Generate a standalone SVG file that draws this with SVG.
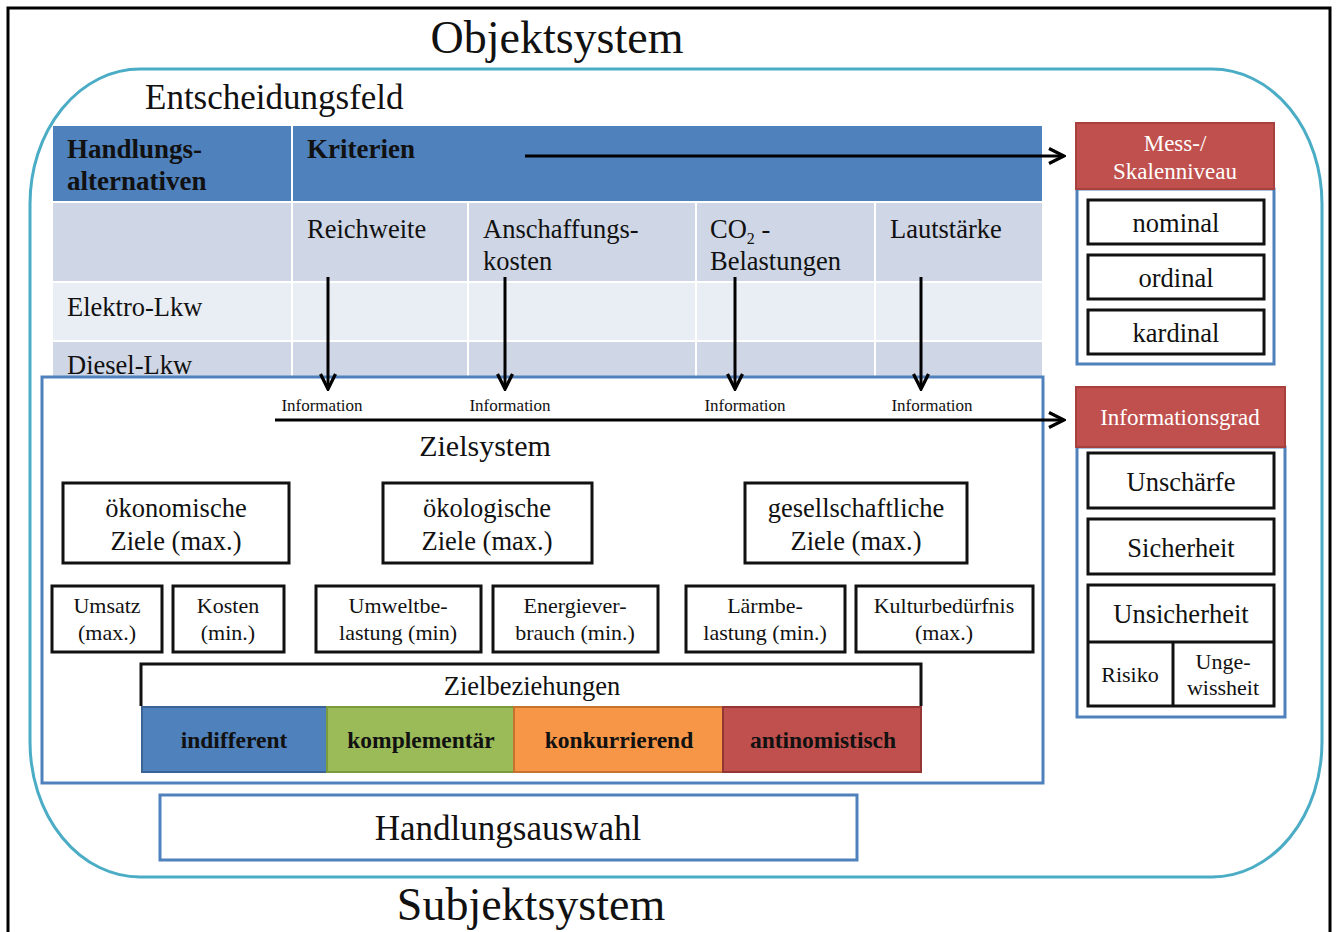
<svg xmlns="http://www.w3.org/2000/svg" width="1338" height="932" viewBox="0 0 1338 932">
  <style>
    text { font-family: "Liberation Serif", "Times New Roman", serif; fill: #111; }
    .title { font-size: 46px; }
    .big { font-size: 35px; }
    .cell { font-size: 26.5px; }
    .hdr { font-size: 27px; font-weight: bold; }
    .info { font-size: 17px; }
    .goal { font-size: 26.5px; }
    .sub { font-size: 22px; }
    .rel { font-size: 23.5px; font-weight: bold; }
    .red-t { font-size: 23px; fill: #fff; }
    .box { fill: #fff; stroke: #111; stroke-width: 3; }
    .panel { fill: #fff; stroke: #4f81bd; stroke-width: 3; }
    .conn { stroke: #000; stroke-width: 3; fill: none; marker-end: url(#arrow); }
  </style>
  <defs>
    <marker id="arrow" viewBox="0 0 12 12" refX="11" refY="6" markerWidth="6" markerHeight="6" orient="auto" markerUnits="strokeWidth">
      <path d="M1,1 L11,6 L1,11" fill="none" stroke="#000" stroke-width="2.2"/>
    </marker>
  </defs>

  <rect width="1338" height="932" fill="#fff"/>

  <!-- outer frame -->
  <rect x="8" y="8" width="1322" height="940" fill="none" stroke="#000" stroke-width="3"/>
  <text class="title" x="557" y="53" text-anchor="middle">Objektsystem</text>
  <text class="title" x="531" y="920" text-anchor="middle">Subjektsystem</text>

  <!-- decision field -->
  <rect x="30" y="69" width="1292" height="808" rx="110" ry="135" fill="none" stroke="#4bacc6" stroke-width="3"/>
  <text class="big" x="145" y="109">Entscheidungsfeld</text>

  <!-- criteria table -->
  <g id="table">
    <rect x="53" y="126" width="989" height="75" fill="#4f81bd"/>
    <line x1="292" y1="126" x2="292" y2="201" stroke="#fff" stroke-width="2"/>
    <rect x="53" y="203" width="989" height="78" fill="#cfd6e5"/>
    <rect x="53" y="283" width="989" height="57" fill="#e9edf4"/>
    <rect x="53" y="342" width="989" height="40" fill="#cfd6e5"/>
    <g stroke="#fff" stroke-width="2">
      <line x1="292" y1="203" x2="292" y2="382"/>
      <line x1="468" y1="203" x2="468" y2="382"/>
      <line x1="696" y1="203" x2="696" y2="382"/>
      <line x1="875" y1="203" x2="875" y2="382"/>
    </g>
    <text class="hdr" x="67" y="158">Handlungs-</text>
    <text class="hdr" x="67" y="190">alternativen</text>
    <text class="hdr" x="307" y="158">Kriterien</text>
    <text class="cell" x="307" y="238">Reichweite</text>
    <text class="cell" x="483" y="238">Anschaffungs-</text>
    <text class="cell" x="483" y="270">kosten</text>
    <text class="cell" x="710" y="238">CO<tspan font-size="16" dy="6">2</tspan><tspan dy="-6"> -</tspan></text>
    <text class="cell" x="710" y="270">Belastungen</text>
    <text class="cell" x="890" y="238">Lautstärke</text>
    <text class="cell" x="67" y="316">Elektro-Lkw</text>
    <text class="cell" x="67" y="374">Diesel-Lkw</text>
  </g>

  <!-- goal system -->
  <g id="zielsystem">
    <rect class="panel" x="42" y="377" width="1001" height="406"/>
    <text class="info" x="322" y="411" text-anchor="middle">Information</text>
    <text class="info" x="510" y="411" text-anchor="middle">Information</text>
    <text class="info" x="745" y="411" text-anchor="middle">Information</text>
    <text class="info" x="932" y="411" text-anchor="middle">Information</text>
    <text x="485" y="456" text-anchor="middle" font-size="30">Zielsystem</text>
  </g>

  <g id="oekonomisch">
    <rect class="box" x="63" y="483" width="226" height="80"/>
    <text class="goal" x="176" y="517" text-anchor="middle">ökonomische</text>
    <text class="goal" x="176" y="550" text-anchor="middle">Ziele (max.)</text>
  </g>
  <g id="oekologisch">
    <rect class="box" x="383" y="483" width="209" height="80"/>
    <text class="goal" x="487" y="517" text-anchor="middle">ökologische</text>
    <text class="goal" x="487" y="550" text-anchor="middle">Ziele (max.)</text>
  </g>
  <g id="gesellschaftlich">
    <rect class="box" x="745" y="483" width="222" height="80"/>
    <text class="goal" x="856" y="517" text-anchor="middle">gesellschaftliche</text>
    <text class="goal" x="856" y="550" text-anchor="middle">Ziele (max.)</text>
  </g>

  <g id="umsatz">
    <rect class="box" x="52" y="586" width="110" height="66"/>
    <text class="sub" x="107" y="613" text-anchor="middle">Umsatz</text>
    <text class="sub" x="107" y="640" text-anchor="middle">(max.)</text>
  </g>
  <g id="kosten">
    <rect class="box" x="173" y="586" width="111" height="66"/>
    <text class="sub" x="228" y="613" text-anchor="middle">Kosten</text>
    <text class="sub" x="228" y="640" text-anchor="middle">(min.)</text>
  </g>
  <g id="umweltbelastung">
    <rect class="box" x="316" y="586" width="165" height="66"/>
    <text class="sub" x="398" y="613" text-anchor="middle">Umweltbe-</text>
    <text class="sub" x="398" y="640" text-anchor="middle">lastung (min)</text>
  </g>
  <g id="energieverbrauch">
    <rect class="box" x="493" y="586" width="165" height="66"/>
    <text class="sub" x="575" y="613" text-anchor="middle">Energiever-</text>
    <text class="sub" x="575" y="640" text-anchor="middle">brauch (min.)</text>
  </g>
  <g id="laermbelastung">
    <rect class="box" x="686" y="586" width="159" height="66"/>
    <text class="sub" x="765" y="613" text-anchor="middle">Lärmbe-</text>
    <text class="sub" x="765" y="640" text-anchor="middle">lastung (min.)</text>
  </g>
  <g id="kulturbeduerfnis">
    <rect class="box" x="856" y="586" width="177" height="66"/>
    <text class="sub" x="944" y="613" text-anchor="middle">Kulturbedürfnis</text>
    <text class="sub" x="944" y="640" text-anchor="middle">(max.)</text>
  </g>

  <g id="zielbeziehungen">
    <path d="M141,706 V664 H921 V706" fill="#fff" stroke="#111" stroke-width="3"/>
    <text x="532" y="695" text-anchor="middle" font-size="26.5">Zielbeziehungen</text>
    <rect x="142" y="707" width="185" height="65" fill="#4f81bd" stroke="#3a6496" stroke-width="2"/>
    <rect x="327" y="707" width="187" height="65" fill="#9bbb59" stroke="#7a9a3c" stroke-width="2"/>
    <rect x="514" y="707" width="209" height="65" fill="#f79646" stroke="#c6742d" stroke-width="2"/>
    <rect x="723" y="707" width="198" height="65" fill="#c0504d" stroke="#943634" stroke-width="2"/>
    <text class="rel" x="234" y="748" text-anchor="middle">indifferent</text>
    <text class="rel" x="421" y="748" text-anchor="middle">komplementär</text>
    <text class="rel" x="619" y="748" text-anchor="middle">konkurrierend</text>
    <text class="rel" x="823" y="748" text-anchor="middle">antinomistisch</text>
  </g>

  <g id="handlungsauswahl">
    <rect class="panel" x="160" y="795" width="697" height="65"/>
    <text x="508" y="840" text-anchor="middle" font-size="35">Handlungsauswahl</text>
  </g>

  <!-- scale level -->
  <g id="skalenniveau">
    <rect class="panel" x="1077" y="189" width="197" height="175"/>
    <rect x="1076" y="123" width="198" height="66" fill="#c0504d" stroke="#a8403d" stroke-width="2"/>
    <text class="red-t" x="1175" y="151" text-anchor="middle">Mess-/</text>
    <text class="red-t" x="1175" y="179" text-anchor="middle">Skalenniveau</text>
    <rect class="box" x="1088" y="200" width="176" height="44"/>
    <rect class="box" x="1088" y="255" width="176" height="44"/>
    <rect class="box" x="1088" y="310" width="176" height="44"/>
    <text class="cell" x="1176" y="232" text-anchor="middle">nominal</text>
    <text class="cell" x="1176" y="287" text-anchor="middle">ordinal</text>
    <text class="cell" x="1176" y="342" text-anchor="middle">kardinal</text>
  </g>

  <!-- information level -->
  <g id="informationsgrad">
    <rect class="panel" x="1077" y="447" width="208" height="270"/>
    <rect x="1076" y="387" width="209" height="60" fill="#c0504d" stroke="#a8403d" stroke-width="2"/>
    <text class="red-t" x="1180" y="425" text-anchor="middle">Informationsgrad</text>
    <rect class="box" x="1088" y="453" width="186" height="55"/>
    <rect class="box" x="1088" y="519" width="186" height="55"/>
    <rect class="box" x="1088" y="585" width="186" height="121"/>
    <line x1="1088" y1="642" x2="1274" y2="642" stroke="#111" stroke-width="3"/>
    <line x1="1173" y1="642" x2="1173" y2="706" stroke="#111" stroke-width="3"/>
    <text class="cell" x="1181" y="491" text-anchor="middle">Unschärfe</text>
    <text class="cell" x="1181" y="557" text-anchor="middle">Sicherheit</text>
    <text class="cell" x="1181" y="623" text-anchor="middle">Unsicherheit</text>
    <text class="sub" x="1130" y="682" text-anchor="middle">Risiko</text>
    <text class="sub" x="1223" y="669" text-anchor="middle">Unge-</text>
    <text class="sub" x="1223" y="695" text-anchor="middle">wissheit</text>
  </g>

  <!-- connectors -->
  <g id="connectors">
    <line class="conn" x1="525" y1="156" x2="1064" y2="156"/>
    <line class="conn" x1="275" y1="420" x2="1064" y2="420"/>
    <line class="conn" x1="328" y1="277" x2="328" y2="389"/>
    <line class="conn" x1="505" y1="277" x2="505" y2="389"/>
    <line class="conn" x1="735" y1="277" x2="735" y2="389"/>
    <line class="conn" x1="921" y1="277" x2="921" y2="389"/>
  </g>
</svg>
